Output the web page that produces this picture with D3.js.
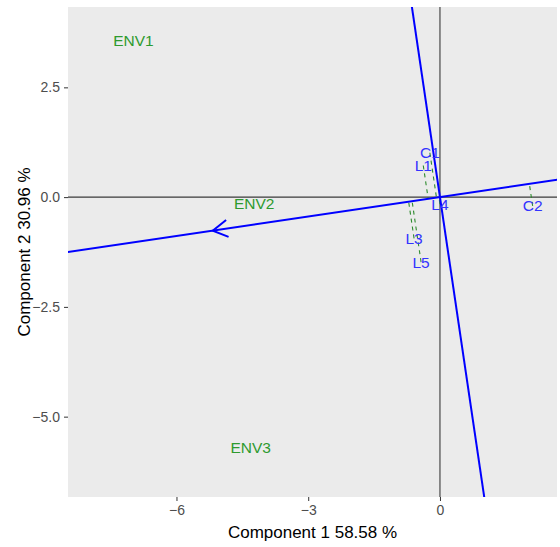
<!DOCTYPE html>
<html>
<head>
<meta charset="utf-8">
<script src="https://cdnjs.cloudflare.com/ajax/libs/d3/7.8.5/d3.min.js"></script>
<style>
body { margin: 0; background: #fff; }
svg text { font-family: "Liberation Sans", Arial, sans-serif; }
</style>
</head>
<body>
<svg id="chart"></svg>
<script>
// environment scores (green labels)
var envNames = ["ENV1", "ENV2", "ENV3"];
var envPC1 = [-6.98, -4.23, -4.31];
var envPC2 = [3.57, -0.15, -5.71];

// genotype scores (blue labels)
var genNames = ["C1", "L1", "L4", "L3", "L5", "C2"];
var genPC1 = [-0.23, -0.38, 0.00, -0.59, -0.43, 2.11];
var genPC2 = [1.01, 0.72, -0.16, -0.94, -1.48, -0.20];

var xTicks = [-6, -3, 0];
var yTicks = [2.5, 0, -2.5, -5];
var xTitle = "Component 1 58.58 %";
var yTitle = "Component 2 30.96 %";

var W = 560, H = 547;
var margin = {top: 7, right: 3, bottom: 50, left: 68};
var w = W - margin.left - margin.right;
var h = H - margin.top - margin.bottom;

var x = d3.scaleLinear().domain([-8.47, 2.665]).range([0, w]);
var y = d3.scaleLinear().domain([-6.83, 4.33]).range([h, 0]);

var svg = d3.select("#chart").attr("width", W).attr("height", H);

svg.append("defs").append("clipPath").attr("id", "clip")
  .append("rect").attr("width", w).attr("height", h);

var g = svg.append("g").attr("transform", "translate(" + margin.left + "," + margin.top + ")");

g.append("rect").attr("width", w).attr("height", h).attr("fill", "#EBEBEB");

var plot = g.append("g").attr("clip-path", "url(#clip)");

// zero lines
plot.append("line").attr("x1", 0).attr("x2", w).attr("y1", y(0)).attr("y2", y(0))
  .attr("stroke", "#3a3a3a").attr("stroke-width", 1.1);
plot.append("line").attr("x1", x(0)).attr("x2", x(0)).attr("y1", 0).attr("y2", h)
  .attr("stroke", "#3a3a3a").attr("stroke-width", 1.1);

// average environment
var mx = d3.mean(envPC1), my = d3.mean(envPC2);
var len = Math.sqrt(mx * mx + my * my);
var ux = mx / len, uy = my / len;

// projections of genotypes onto the average environment axis
var gens = genNames.map(function(n, i) { return {name: n, x: genPC1[i], y: genPC2[i]}; });
plot.selectAll(".proj").data(gens).enter().append("line")
  .attr("x1", function(d) { return x(d.x); })
  .attr("y1", function(d) { return y(d.y); })
  .attr("x2", function(d) { return x((d.x * ux + d.y * uy) * ux); })
  .attr("y2", function(d) { return y((d.x * ux + d.y * uy) * uy); })
  .attr("stroke", "#2E8B2E").attr("stroke-width", 1.1).attr("stroke-dasharray", "4,4");

// average environment axis and its perpendicular
var L = 20;
plot.append("line")
  .attr("x1", x(-L * ux)).attr("y1", y(-L * uy)).attr("x2", x(L * ux)).attr("y2", y(L * uy))
  .attr("stroke", "blue").attr("stroke-width", 2);
plot.append("line")
  .attr("x1", x(-L * uy)).attr("y1", y(L * ux)).attr("x2", x(L * uy)).attr("y2", y(-L * ux))
  .attr("stroke", "blue").attr("stroke-width", 2);

// arrow head at the average environment
var tx = x(mx), ty = y(my);
var ang = Math.atan2(y(0) - ty, x(0) - tx);
var headLen = 17, spread = Math.PI / 6;
var head = d3.path();
head.moveTo(tx + headLen * Math.cos(ang - spread), ty + headLen * Math.sin(ang - spread));
head.lineTo(tx, ty);
head.lineTo(tx + headLen * Math.cos(ang + spread), ty + headLen * Math.sin(ang + spread));
plot.append("path").attr("d", head.toString()).attr("fill", "none")
  .attr("stroke", "blue").attr("stroke-width", 2);

// labels
var envs = envNames.map(function(n, i) { return {name: n, x: envPC1[i], y: envPC2[i]}; });
plot.selectAll(".env").data(envs).enter().append("text")
  .attr("x", function(d) { return x(d.x); })
  .attr("y", function(d) { return y(d.y); })
  .attr("dy", "0.36em").attr("text-anchor", "middle")
  .attr("font-size", 15.5).attr("fill", "#2E9A2E")
  .text(function(d) { return d.name; });

plot.selectAll(".gen").data(gens).enter().append("text")
  .attr("x", function(d) { return x(d.x); })
  .attr("y", function(d) { return y(d.y); })
  .attr("dy", "0.36em").attr("text-anchor", "middle")
  .attr("font-size", 15.5).attr("fill", "#3333FF")
  .text(function(d) { return d.name; });

// axes
var xAxis = g.append("g").attr("transform", "translate(0," + h + ")")
  .call(d3.axisBottom(x).tickValues(xTicks).tickSize(4).tickPadding(4).tickFormat(d3.format("d")));
var yAxis = g.append("g")
  .call(d3.axisLeft(y).tickValues(yTicks).tickSize(4).tickPadding(4).tickFormat(d3.format(".1f")));
[xAxis, yAxis].forEach(function(a) {
  a.select(".domain").remove();
  a.selectAll(".tick line").attr("stroke", "#333");
  a.selectAll(".tick text").attr("fill", "#4D4D4D").attr("font-size", 14)
    .attr("font-family", "Liberation Sans, Arial, sans-serif");
});

svg.append("text")
  .attr("x", margin.left + w / 2).attr("y", 538)
  .attr("text-anchor", "middle").attr("font-size", 17).attr("fill", "#000")
  .text(xTitle);

svg.append("text")
  .attr("transform", "translate(30," + (margin.top + h / 2) + ") rotate(-90)")
  .attr("text-anchor", "middle").attr("font-size", 17).attr("fill", "#000")
  .text(yTitle);
</script>
</body>
</html>
